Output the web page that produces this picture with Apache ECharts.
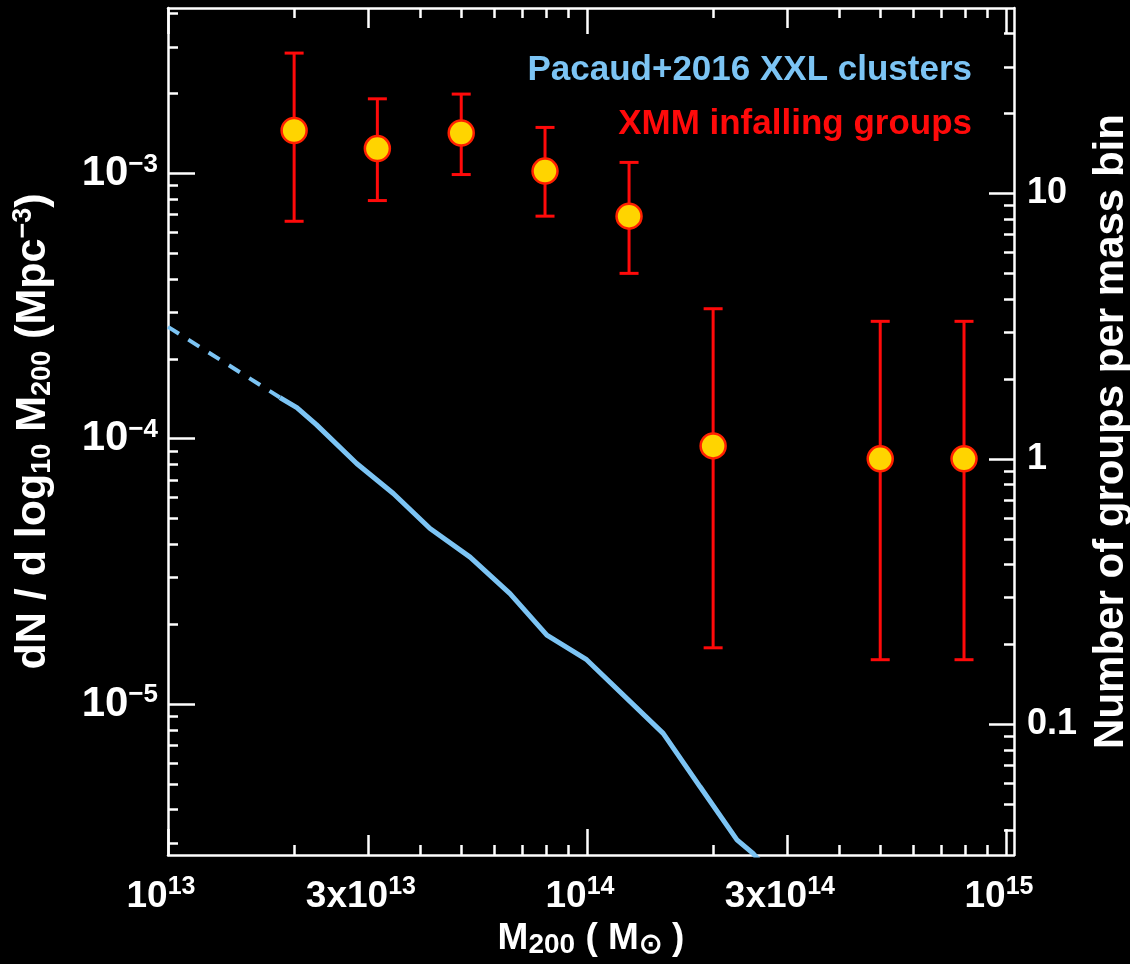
<!DOCTYPE html>
<html>
<head>
<meta charset="utf-8">
<script src="https://cdn.jsdelivr.net/npm/echarts@6/dist/echarts.min.js"></script>
<style>
  html, body { margin: 0; padding: 0; background: #000; }
  #chart { width: 1130px; height: 964px; }
</style>
</head>
<body>
<div id="chart"></div>
<script>
// XMM infalling groups: halo mass bin centres (M200 in solar masses),
// space density dN/dlog10 M200 (Mpc^-3) and the 1-sigma range of each bin
const groupMass    = [2.0e13, 3.16e13, 5.01e13, 7.94e13, 1.26e14, 2.0e14, 5.01e14, 7.94e14];
const groupDensity = [1.45e-3, 1.24e-3, 1.42e-3, 1.02e-3, 6.9e-4, 9.4e-5, 8.4e-5, 8.4e-5];
const groupLow     = [6.6e-4, 7.9e-4, 9.9e-4, 6.9e-4, 4.2e-4, 1.63e-5, 1.47e-5, 1.47e-5];
const groupHigh    = [2.84e-3, 1.91e-3, 1.99e-3, 1.49e-3, 1.10e-3, 3.09e-4, 2.77e-4, 2.77e-4];

// Pacaud+2016 XXL cluster mass function
const xxlMass    = [1.85e13, 2.03e13, 2.26e13, 2.82e13, 3.45e13, 4.22e13, 5.26e13, 6.55e13,
                    8.02e13, 9.98e13, 1.52e14, 1.86e14, 2.28e14, 2.49e14, 2.62e14];
const xxlDensity = [1.43e-4, 1.31e-4, 1.13e-4, 8.07e-5, 6.22e-5, 4.59e-5, 3.58e-5, 2.61e-5,
                    1.82e-5, 1.47e-5, 7.76e-6, 4.89e-6, 3.08e-6, 2.74e-6, 2.5e-6];
// extrapolation below the XXL mass limit (dashed)
const xxlExtMass    = [1.0e13, 1.85e13];
const xxlExtDensity = [2.64e-4, 1.43e-4];

// axis ranges
const massRange    = [1e13, 1.045e15];
const densityRange = [2.7e-6, 4.2e-3];
const countRange   = [0.0322, 50];

// tick values
const massLabelTicks = [1e13, 3e13, 1e14, 3e14, 1e15];
const massMajorTicks = [1e13, 1e14, 1e15];
const massMidTicks   = [3e13, 3e14];
const massMinorTicks = [2e13, 4e13, 5e13, 6e13, 7e13, 8e13, 9e13,
                        2e14, 4e14, 5e14, 6e14, 7e14, 8e14, 9e14];
const densityMajorTicks = [1e-5, 1e-4, 1e-3];
const densityMinorTicks = [3e-6, 4e-6, 5e-6, 6e-6, 7e-6, 8e-6, 9e-6,
                           2e-5, 3e-5, 4e-5, 5e-5, 6e-5, 7e-5, 8e-5, 9e-5,
                           2e-4, 3e-4, 4e-4, 5e-4, 6e-4, 7e-4, 8e-4, 9e-4,
                           2e-3, 3e-3, 4e-3];
const countMajorTicks = [0.1, 1, 10];
const countMinorTicks = [0.04, 0.05, 0.06, 0.07, 0.08, 0.09,
                         0.2, 0.3, 0.4, 0.5, 0.6, 0.7, 0.8, 0.9,
                         2, 3, 4, 5, 6, 7, 8, 9, 20, 30, 40];

const FONT = '"Liberation Sans", Arial, Helvetica, sans-serif';
const WHITE = '#ffffff';
const BLUE = '#7cc4f4';
const RED = '#ff0a0a';

function powerLabel(v) {
  const e = Math.floor(Math.log10(v) + 1e-9);
  const m = Math.round(v / Math.pow(10, e));
  const exp = String(e).replace('-', '\u2212');
  return (m === 1 ? '{b|10}' : '{b|' + m + 'x10}') + '{s|' + exp + '}';
}

// tick-only axis (no line, no labels) sharing the grid
function tickAxis(position, range, ticks, len) {
  return {
    type: 'log', logBase: 10, position: position,
    min: range[0], max: range[1],
    axisLine: { show: false },
    axisTick: { show: true, inside: true, length: len, customValues: ticks,
                lineStyle: { color: WHITE, width: 2.5 } },
    axisLabel: { show: false },
    splitLine: { show: false },
    minorTick: { show: false }
  };
}

const xAxes = [
  {
    type: 'log', logBase: 10, position: 'bottom',
    min: massRange[0], max: massRange[1],
    axisLine: { show: true, lineStyle: { color: WHITE, width: 2.5 } },
    axisTick: { show: true, inside: true, length: 26, customValues: massMajorTicks,
                lineStyle: { color: WHITE, width: 2.5 } },
    axisLabel: {
      show: true, customValues: massLabelTicks, margin: 20,
      formatter: powerLabel,
      rich: {
        b: { fontFamily: FONT, fontSize: 37, fontWeight: 'bold', color: WHITE, lineHeight: 44 },
        s: { fontFamily: FONT, fontSize: 25, fontWeight: 'bold', color: WHITE, lineHeight: 14,
             verticalAlign: 'top', padding: [0, 14, 0, 0] }
      }
    },
    splitLine: { show: false },
    name: '{b|M}{sb|200}{b| ( M}{sb|\u2299}{b| )}',
    nameLocation: 'middle', nameGap: 62,
    nameTextStyle: {
      rich: {
        b: { fontFamily: FONT, fontSize: 37, fontWeight: 'bold', color: WHITE, lineHeight: 40 },
        sb: { fontFamily: FONT, fontSize: 28, fontWeight: 'bold', color: WHITE, lineHeight: 8,
              verticalAlign: 'bottom' }
      }
    }
  },
  tickAxis('bottom', massRange, massMidTicks, 20),
  tickAxis('bottom', massRange, massMinorTicks, 10),
  Object.assign(tickAxis('top', massRange, massMajorTicks, 26),
    { axisLine: { show: true, lineStyle: { color: WHITE, width: 2.5 } } }),
  tickAxis('top', massRange, massMidTicks, 20),
  tickAxis('top', massRange, massMinorTicks, 10)
];

const yAxes = [
  {
    type: 'log', logBase: 10, position: 'left',
    min: densityRange[0], max: densityRange[1],
    axisLine: { show: true, lineStyle: { color: WHITE, width: 2.5 } },
    axisTick: { show: true, inside: true, length: 27, customValues: densityMajorTicks,
                lineStyle: { color: WHITE, width: 2.5 } },
    axisLabel: {
      show: true, customValues: densityMajorTicks, margin: 10,
      formatter: powerLabel,
      rich: {
        b: { fontFamily: FONT, fontSize: 42, fontWeight: 'bold', color: WHITE, lineHeight: 44 },
        s: { fontFamily: FONT, fontSize: 26, fontWeight: 'bold', color: WHITE, lineHeight: 20,
             verticalAlign: 'top' }
      }
    },
    splitLine: { show: false },
    name: '{b|dN / d log}{sb|10}{b| M}{sb|200}{b| (Mpc}{sp|\u22123}{b|)}',
    nameLocation: 'middle', nameRotate: 90, nameGap: 112,
    nameTextStyle: {
      rich: {
        b: { fontFamily: FONT, fontSize: 43, fontWeight: 'bold', color: WHITE, lineHeight: 46 },
        sb: { fontFamily: FONT, fontSize: 27, fontWeight: 'bold', color: WHITE, lineHeight: 8,
              verticalAlign: 'bottom' },
        sp: { fontFamily: FONT, fontSize: 27, fontWeight: 'bold', color: WHITE, lineHeight: 16,
              verticalAlign: 'top' }
      }
    }
  },
  tickAxis('left', densityRange, densityMinorTicks, 10),
  {
    type: 'log', logBase: 10, position: 'right',
    min: countRange[0], max: countRange[1],
    axisLine: { show: true, lineStyle: { color: WHITE, width: 2.5 } },
    axisTick: { show: true, inside: true, length: 25, customValues: countMajorTicks,
                lineStyle: { color: WHITE, width: 2.5 } },
    axisLabel: {
      show: true, customValues: countMajorTicks, margin: 13,
      formatter: function (v) { return String(v); },
      fontFamily: FONT, fontSize: 36, fontWeight: 'bold', color: WHITE
    },
    splitLine: { show: false },
    name: 'Number of groups per mass bin',
    nameLocation: 'middle', nameRotate: 90, nameGap: 76,
    nameTextStyle: { fontFamily: FONT, fontSize: 42, fontWeight: 'bold', color: WHITE }
  },
  tickAxis('right', countRange, countMinorTicks, 10)
];

const chart = echarts.init(document.getElementById('chart'), null, { renderer: 'canvas' });

chart.setOption({
  backgroundColor: '#000000',
  animation: false,
  grid: { left: 168, top: 8, width: 846, height: 847, containLabel: false, outerBoundsMode: 'none' },
  xAxis: xAxes,
  yAxis: yAxes,
  graphic: [
    { type: 'text', x: 972, y: 70, z: 10,
      style: { text: 'Pacaud+2016 XXL clusters', fill: BLUE, textAlign: 'right',
               textVerticalAlign: 'middle', font: 'bold 35px ' + FONT } },
    { type: 'text', x: 972, y: 124, z: 10,
      style: { text: 'XMM infalling groups', fill: RED, textAlign: 'right',
               textVerticalAlign: 'middle', font: 'bold 35px ' + FONT } }
  ],
  series: [
    {
      name: 'XXL extrapolation', type: 'line', xAxisIndex: 0, yAxisIndex: 0,
      data: xxlExtMass.map((m, i) => [m, xxlExtDensity[i]]),
      showSymbol: false, clip: true, z: 2,
      lineStyle: { color: BLUE, width: 4, type: [13, 11] }
    },
    {
      name: 'Pacaud+2016 XXL clusters', type: 'line', xAxisIndex: 0, yAxisIndex: 0,
      data: xxlMass.map((m, i) => [m, xxlDensity[i]]),
      showSymbol: false, clip: true, z: 2,
      lineStyle: { color: BLUE, width: 5 }
    },
    {
      name: 'errors', type: 'custom', xAxisIndex: 0, yAxisIndex: 0, z: 3,
      data: groupMass.map((m, i) => [m, groupLow[i], groupHigh[i]]),
      encode: { x: 0, y: [1, 2] },
      renderItem: function (params, api) {
        const x = api.value(0);
        const lo = api.coord([x, api.value(1)]);
        const hi = api.coord([x, api.value(2)]);
        const cap = 9.5;
        const st = { stroke: RED, lineWidth: 3 };
        return {
          type: 'group',
          children: [
            { type: 'line', shape: { x1: lo[0], y1: lo[1], x2: hi[0], y2: hi[1] }, style: st },
            { type: 'line', shape: { x1: lo[0] - cap, y1: lo[1], x2: lo[0] + cap, y2: lo[1] }, style: st },
            { type: 'line', shape: { x1: hi[0] - cap, y1: hi[1], x2: hi[0] + cap, y2: hi[1] }, style: st }
          ]
        };
      }
    },
    {
      name: 'XMM infalling groups', type: 'scatter', xAxisIndex: 0, yAxisIndex: 0, z: 4,
      data: groupMass.map((m, i) => [m, groupDensity[i]]),
      symbol: 'circle', symbolSize: 25,
      itemStyle: { color: '#ffd400', borderColor: '#ff2000', borderWidth: 2.5, opacity: 1 }
    }
  ]
});
</script>
</body>
</html>
